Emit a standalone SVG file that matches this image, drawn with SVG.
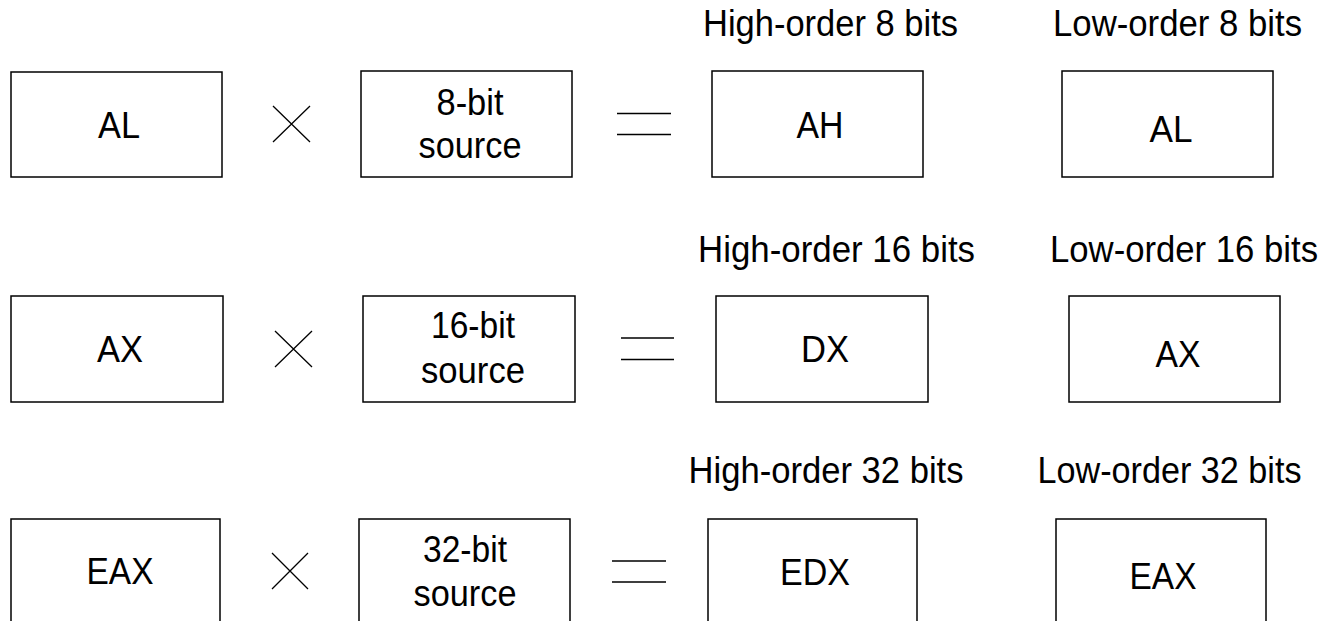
<svg xmlns="http://www.w3.org/2000/svg" width="1326" height="621" viewBox="0 0 1326 621">
<style>
.box{fill:#fff;stroke:#000;stroke-width:1.5}
.op{stroke:#000;stroke-width:1.3;fill:none}
text{font-family:"Liberation Sans",Arial,sans-serif;font-size:36px;fill:#000;text-anchor:middle}
</style>
<rect width="1326" height="621" fill="#fff"/>
<!-- Row 1 -->
<g id="r1-al"><rect class="box" x="11" y="72" width="211" height="105"/><text x="119" y="138" textLength="42" lengthAdjust="spacingAndGlyphs">AL</text></g>
<g id="r1-src"><rect class="box" x="361" y="71" width="211" height="106"/><text x="470" y="115" textLength="67" lengthAdjust="spacingAndGlyphs">8-bit</text><text x="470" y="158" textLength="103" lengthAdjust="spacingAndGlyphs">source</text></g>
<g id="r1-high-label"><text x="830.5" y="36" textLength="255" lengthAdjust="spacingAndGlyphs">High-order 8 bits</text></g>
<g id="r1-low-label"><text x="1177.5" y="36" textLength="249" lengthAdjust="spacingAndGlyphs">Low-order 8 bits</text></g>
<g id="r1-ah"><rect class="box" x="712" y="71" width="211" height="106"/><text x="820" y="138" textLength="47" lengthAdjust="spacingAndGlyphs">AH</text></g>
<g id="r1-al2"><rect class="box" x="1062" y="71" width="211" height="106"/><text x="1171" y="142" textLength="43" lengthAdjust="spacingAndGlyphs">AL</text></g>
<!-- Row 2 -->
<g id="r2-ax"><rect class="box" x="11" y="296" width="212" height="106"/><text x="120" y="362" textLength="46" lengthAdjust="spacingAndGlyphs">AX</text></g>
<g id="r2-src"><rect class="box" x="363" y="296" width="212" height="106"/><text x="473" y="338" textLength="84" lengthAdjust="spacingAndGlyphs">16-bit</text><text x="473" y="383" textLength="104" lengthAdjust="spacingAndGlyphs">source</text></g>
<g id="r2-high-label"><text x="836.5" y="262" textLength="277" lengthAdjust="spacingAndGlyphs">High-order 16 bits</text></g>
<g id="r2-low-label"><text x="1184" y="262" textLength="268" lengthAdjust="spacingAndGlyphs">Low-order 16 bits</text></g>
<g id="r2-dx"><rect class="box" x="716" y="296" width="212" height="106"/><text x="825" y="362" textLength="48" lengthAdjust="spacingAndGlyphs">DX</text></g>
<g id="r2-ax2"><rect class="box" x="1069" y="296" width="211" height="106"/><text x="1178" y="367" textLength="45" lengthAdjust="spacingAndGlyphs">AX</text></g>
<!-- Row 3 -->
<g id="r3-eax"><rect class="box" x="11" y="519" width="209" height="106"/><text x="120" y="584" textLength="67" lengthAdjust="spacingAndGlyphs">EAX</text></g>
<g id="r3-src"><rect class="box" x="359" y="519" width="211" height="106"/><text x="465" y="562" textLength="84" lengthAdjust="spacingAndGlyphs">32-bit</text><text x="465" y="606" textLength="103" lengthAdjust="spacingAndGlyphs">source</text></g>
<g id="r3-high-label"><text x="826" y="483" textLength="275" lengthAdjust="spacingAndGlyphs">High-order 32 bits</text></g>
<g id="r3-low-label"><text x="1169.5" y="483" textLength="264" lengthAdjust="spacingAndGlyphs">Low-order 32 bits</text></g>
<g id="r3-edx"><rect class="box" x="708" y="519" width="209" height="106"/><text x="815" y="585" textLength="70" lengthAdjust="spacingAndGlyphs">EDX</text></g>
<g id="r3-eax2"><rect class="box" x="1056" y="519" width="210" height="106"/><text x="1163" y="589" textLength="67" lengthAdjust="spacingAndGlyphs">EAX</text></g>
<!-- Operators -->
<g id="operators" class="op">
<path d="M273 106L310 142M273 142L310 106"/>
<path d="M617 113.5H671M617 134.5H671"/>
<path d="M275 331L312 367M275 367L312 331"/>
<path d="M621 338H674M621 359.5H674"/>
<path d="M272 553L308 589M272 589L308 553"/>
<path d="M612 561H666M612 582H666"/>
</g>
</svg>
